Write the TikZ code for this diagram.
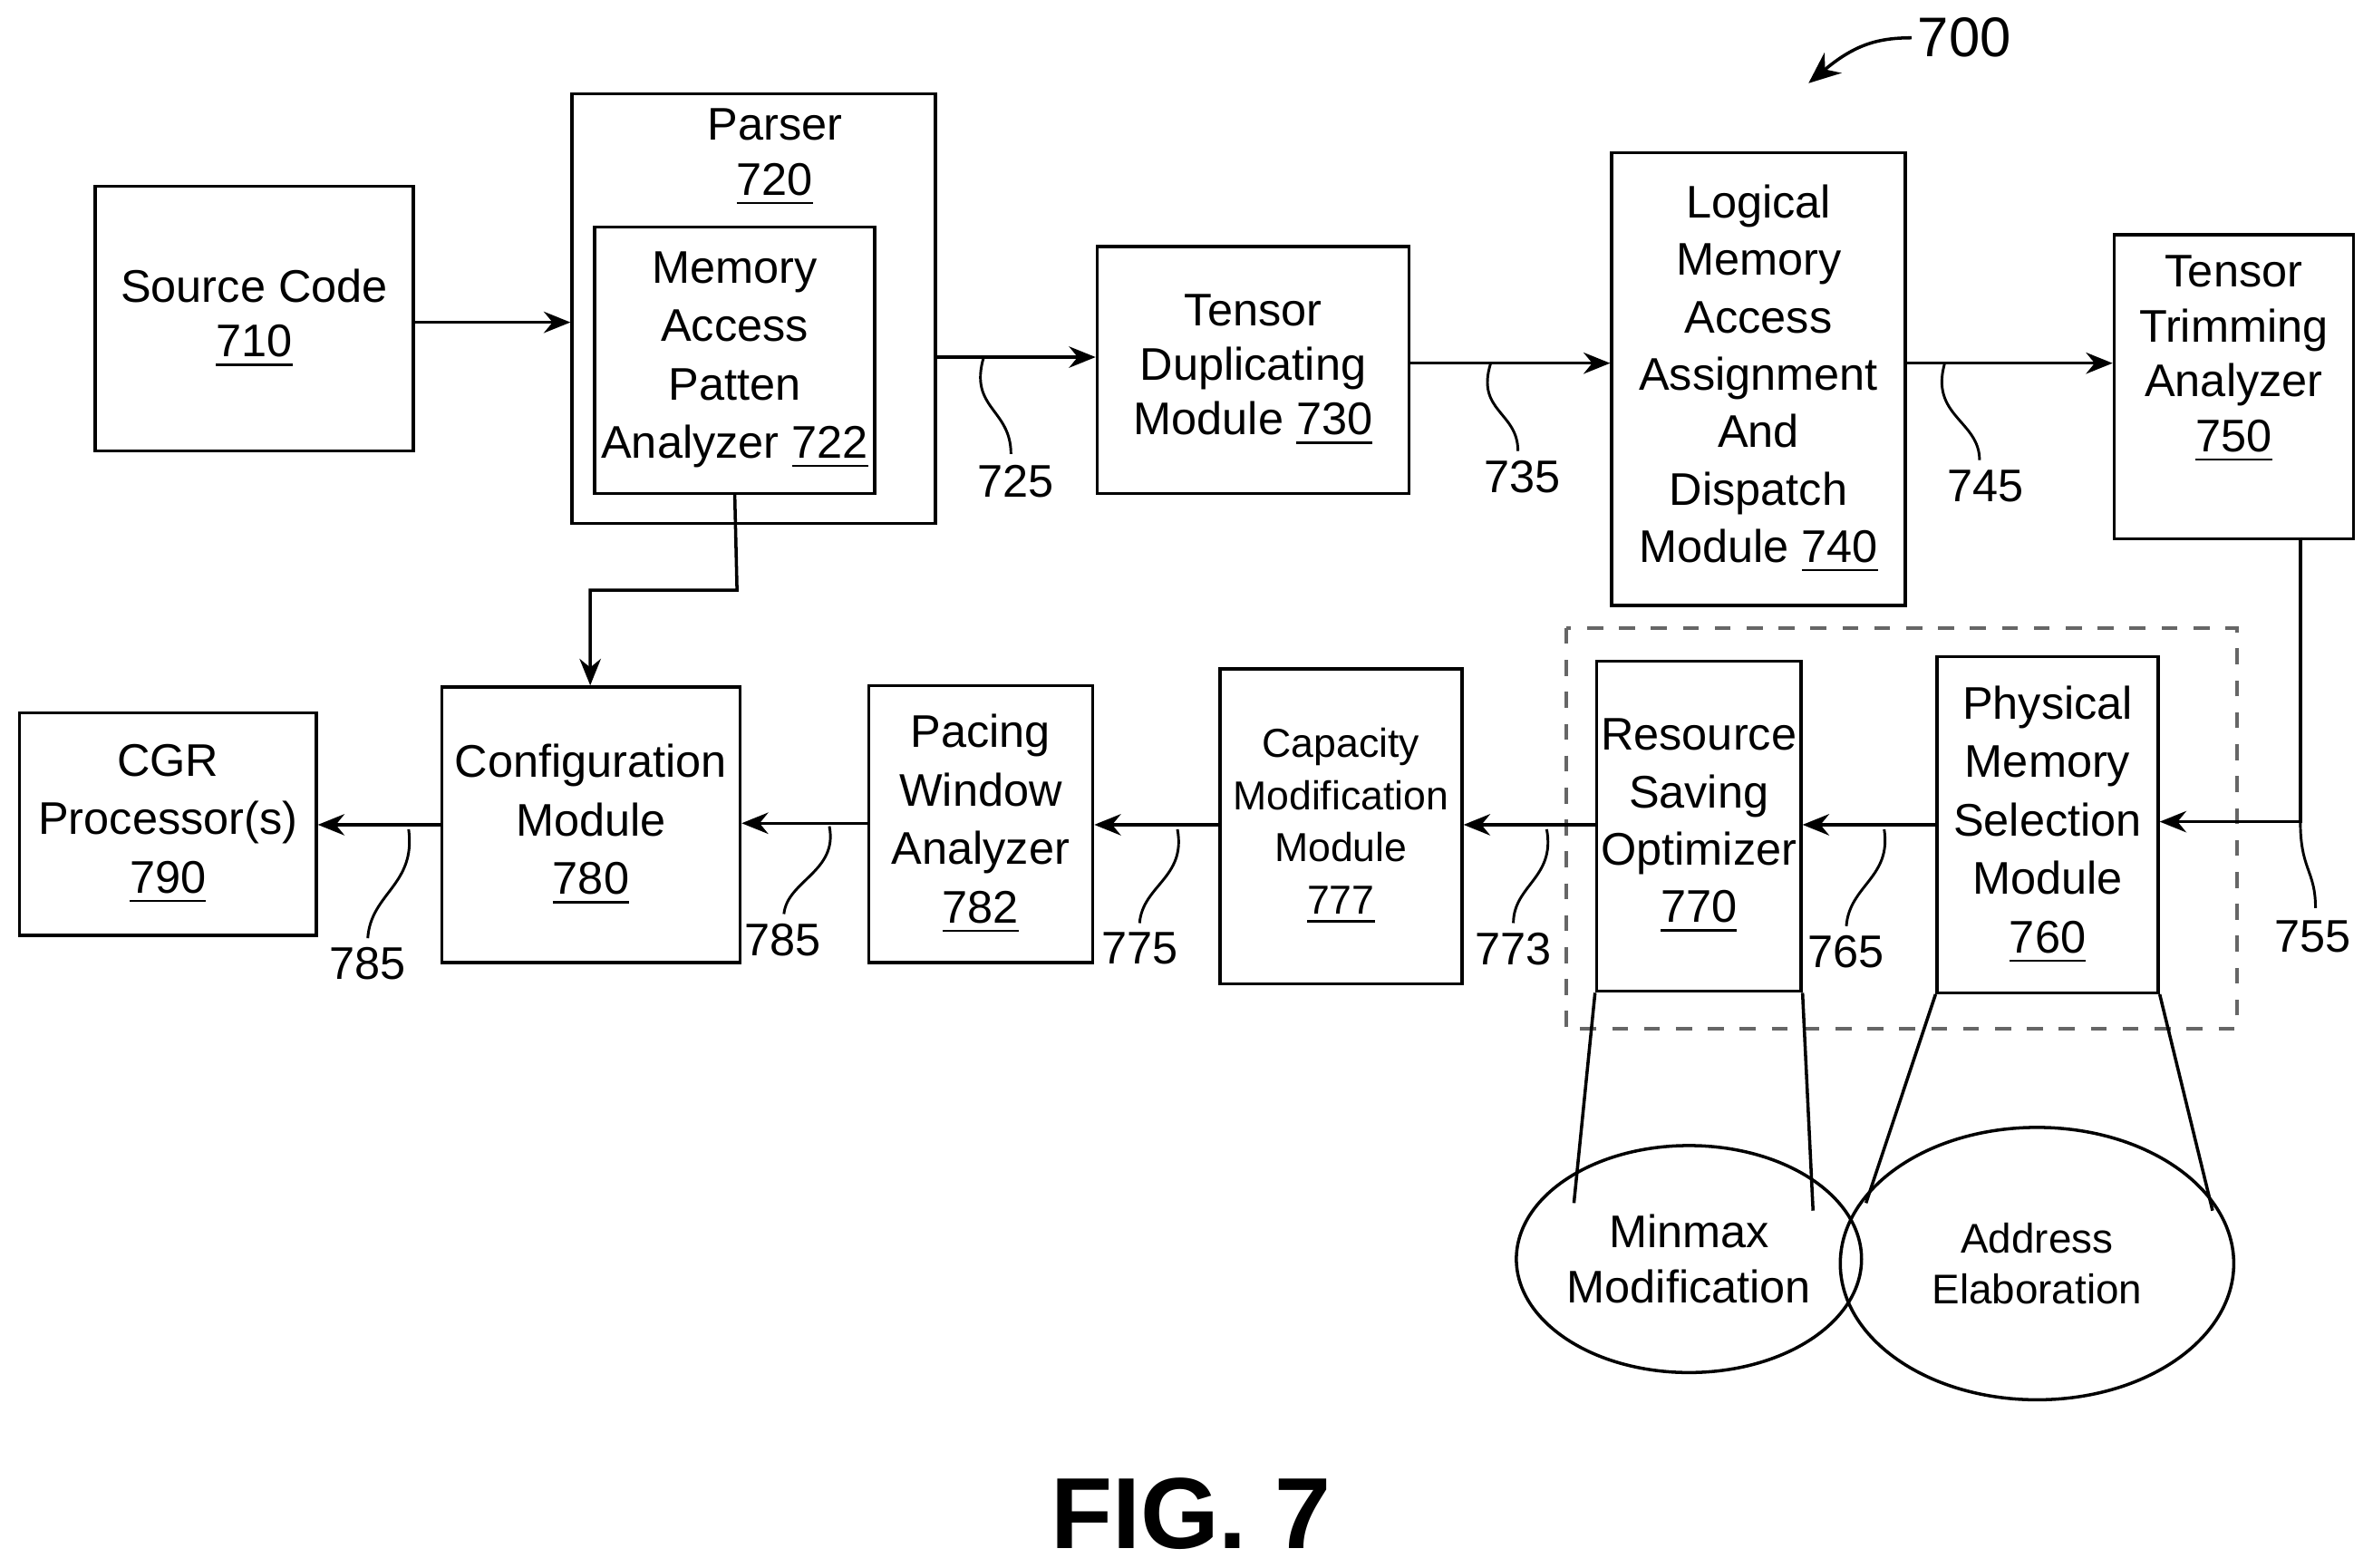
\documentclass[tikz,border=0pt]{standalone}
\usepackage{fontspec}
\setmainfont{Liberation Sans}
\usetikzlibrary{arrows.meta,shapes.geometric}
\newcommand{\unum}[1]{\underline{#1}}
\begin{document}
\begin{tikzpicture}[x=0.1mm,y=-0.1mm,
  box/.style={draw,line width=0.6pt,align=center,inner sep=0pt,font=\fontsize{8.6}{10.3}\selectfont},
  arr/.style={-{Stealth[length=5pt,width=4pt]},line width=0.6pt},
  lead/.style={line width=0.5pt},
  num/.style={font=\fontsize{8.6}{10}\selectfont,inner sep=1pt}]
\useasboundingbox (0,0) rectangle (1568,1036);
\node[box,minimum width=210*0.1mm,minimum height=175*0.1mm] (s710) at (168,210.5) {Source Code\\\unum{710}};
\node[box,minimum width=240*0.1mm,minimum height=284*0.1mm] (p720) at (498,204) {};
\node[box,draw=none] at (512,104) {Parser\\\unum{720}};
\node[box,minimum width=185*0.1mm,minimum height=176*0.1mm,font=\fontsize{8.6}{11}\selectfont] (m722) at (485.5,238) {Memory\\Access\\Patten\\Analyzer \unum{722}};
\node[box,minimum width=206*0.1mm,minimum height=163*0.1mm] (t730) at (828,244.5) {Tensor\\Duplicating\\Module \unum{730}};
\node[box,minimum width=194*0.1mm,minimum height=299*0.1mm,font=\fontsize{8.6}{10.8}\selectfont] (l740) at (1162,250.5) {Logical\\Memory\\Access\\Assignment\\And\\Dispatch\\Module \unum{740}};
\node[box,minimum width=158*0.1mm,minimum height=201*0.1mm,anchor=north] (t750) at (1476,154) {};
\node[box,draw=none,anchor=north] at (1476,168) {Tensor\\Trimming\\Analyzer\\\unum{750}};
\draw[dashed,line width=0.7pt,gray!80!black] (1035,415) rectangle (1478,680);
\node[box,minimum width=146*0.1mm,minimum height=222*0.1mm,font=\fontsize{8.6}{11}\selectfont] (p760) at (1353,545) {Physical\\Memory\\Selection\\Module\\\unum{760}};
\node[box,minimum width=135*0.1mm,minimum height=218*0.1mm,font=\fontsize{8.6}{10.8}\selectfont] (r770) at (1122.5,546) {Resource\\Saving\\Optimizer\\\unum{770}};
\node[box,minimum width=160*0.1mm,minimum height=208*0.1mm,font=\fontsize{7.6}{9.8}\selectfont] (c777) at (886,546) {Capacity\\Modification\\Module\\\unum{777}};
\node[box,minimum width=148*0.1mm,minimum height=183*0.1mm,font=\fontsize{8.6}{11}\selectfont] (w782) at (648,544.5) {Pacing\\Window\\Analyzer\\\unum{782}};
\node[box,minimum width=197*0.1mm,minimum height=182*0.1mm,font=\fontsize{8.6}{11}\selectfont] (c780) at (390.5,545) {Configuration\\Module\\\unum{780}};
\node[box,minimum width=196*0.1mm,minimum height=147*0.1mm,font=\fontsize{8.6}{11}\selectfont] (g790) at (111,544.5) {CGR\\Processor(s)\\\unum{790}};
\node[draw,ellipse,line width=0.6pt,minimum width=176*0.1mm,minimum height=150*0.1mm,align=center,font=\fontsize{8.6}{10.3}\selectfont,inner sep=0pt] (e1) at (1116,832) {Minmax\\Modification};
\node[draw,ellipse,line width=0.6pt,minimum width=260*0.1mm,minimum height=180*0.1mm,align=center,font=\fontsize{7.8}{9.6}\selectfont,inner sep=0pt] (e2) at (1346,835) {Address\\Elaboration};
\draw[line width=0.6pt] (r770.south west) -- (1040,795) (r770.south east) -- (1198,800);
\draw[line width=0.6pt] (p760.south west) -- (1233,795) (p760.south east) -- (1462,800);
% arrows
\draw[arr] (s710.east|-0,213) -- (p720.west|-0,213);
\draw[arr] (p720.east|-0,236) -- (t730.west|-0,236);
\draw[arr] (t730.east|-0,240) -- (l740.west|-0,240);
\draw[arr] (l740.east|-0,240) -- (t750.west|-0,240);
\draw[arr] (1520,355) -- (1520,543) -- (p760.east|-0,543);
\draw[arr] (p760.west|-0,545) -- (r770.east|-0,545);
\draw[arr] (r770.west|-0,545) -- (c777.east|-0,545);
\draw[arr] (c777.west|-0,545) -- (w782.east|-0,545);
\draw[arr] (w782.west|-0,544) -- (c780.east|-0,544);
\draw[arr] (c780.west|-0,545) -- (g790.east|-0,545);
\draw[arr] (m722.south) -- (487,390) -- (390,390) -- (c780.north-|390,0);
% leaders
\draw[lead] (650,236) .. controls (640,270) and (668,270) .. (668,300);
\node[num] at (671,318) {725};
\draw[lead] (985,240) .. controls (975,272) and (1003,272) .. (1003,298);
\node[num] at (1006,315) {735};
\draw[lead] (1285,240) .. controls (1275,275) and (1308,278) .. (1308,304);
\node[num] at (1312,321) {745};
\draw[lead] (1520,543) .. controls (1520,575) and (1530,575) .. (1530,600);
\node[num] at (1528,619) {755};
\draw[lead] (1245,548) .. controls (1250,580) and (1222,585) .. (1220,612);
\node[num] at (1220,629) {765};
\draw[lead] (1022,548) .. controls (1028,580) and (1000,585) .. (1000,610);
\node[num] at (1000,627) {773};
\draw[lead] (778,548) .. controls (784,580) and (755,585) .. (753,610);
\node[num] at (753,627) {775};
\draw[lead] (548,546) .. controls (554,576) and (520,582) .. (518,604);
\node[num] at (517,621) {785};
\draw[lead] (270,548) .. controls (275,585) and (245,590) .. (243,620);
\node[num] at (243,637) {785};
\node[font=\fontsize{10.5}{12}\selectfont,inner sep=1pt] (n700) at (1298,25) {700};
\draw[-{Stealth[length=6pt,width=5pt]},line width=0.6pt] (n700.west) .. controls (1240,25) and (1225,30) .. (1195,55);
\node[font=\fontsize{19}{22}\bfseries\selectfont] at (787,1000) {FIG. 7};
\end{tikzpicture}
\end{document}
